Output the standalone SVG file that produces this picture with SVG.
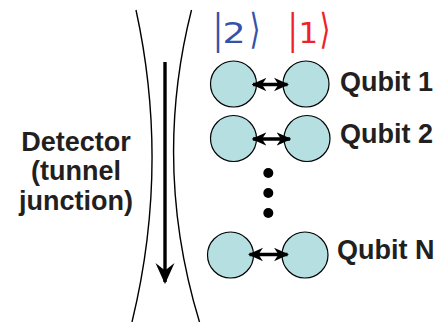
<svg xmlns="http://www.w3.org/2000/svg" width="438" height="322" viewBox="0 0 438 322">
  <style>
    .lbl { font-family: "Liberation Sans", Arial, sans-serif; font-weight: bold; font-size: 27px; fill: #231f20; }
    .det { font-family: "Liberation Sans", Arial, sans-serif; font-weight: bold; font-size: 27px; fill: #231f20; text-anchor: middle; }
    .qc { fill: #b5dfe1; stroke: #000; stroke-width: 1.2; }
    .link { stroke: #000; stroke-width: 3.4; fill: none; }
    .ket { font-family: "DejaVu Sans", "Liberation Sans", sans-serif; font-size: 28px; }
    .blue { fill: #3652a8; }
    .red { fill: #ee2227; }
    .curve { stroke: #000; stroke-width: 1.4; fill: none; }
    .dot { fill: #000; }
  </style>
  <defs>
    <marker id="head" viewBox="0 0 10 10" refX="9" refY="5" markerWidth="4.4" markerHeight="4.4" orient="auto-start-reverse" markerUnits="strokeWidth">
      <path d="M0,0.5 L10,5 L0,9.5 L3,5 Z" fill="#000"/>
    </marker>
    <marker id="bighead" viewBox="0 0 10 10" refX="9" refY="5" markerWidth="6.2" markerHeight="6.2" orient="auto" markerUnits="strokeWidth">
      <path d="M0,0.5 L10,5 L0,9.5 L3.5,5 Z" fill="#000"/>
    </marker>
  </defs>

  <g id="detector">
    <path class="curve" d="M136,10 Q170,166 132,322"/>
    <path class="curve" d="M191.5,10 Q152,166 199.5,322"/>
    <text class="det" x="76" y="151">Detector</text>
    <text class="det" x="76" y="180">(tunnel</text>
    <text class="det" x="76" y="210">junction)</text>
  </g>

  <g id="ket2">
    <text class="ket blue" transform="translate(218,43.3) scale(1,1.48)" text-anchor="middle">|</text>
    <text class="ket blue" transform="translate(222.5,43) scale(1.3,1)">2</text>
    <text class="ket blue" transform="translate(255,43.3) scale(1,1.48)" text-anchor="middle">⟩</text>
  </g>
  <g id="ket1">
    <text class="ket red" transform="translate(292.7,43.3) scale(1,1.48)" text-anchor="middle">|</text>
    <text class="ket red" transform="translate(298.5,43) scale(1.1,1)">1</text>
    <text class="ket red" transform="translate(325,43.3) scale(1,1.48)" text-anchor="middle">⟩</text>
  </g>

  <g id="qubit1">
    <circle class="qc" cx="233.5" cy="84" r="23"/>
    <circle class="qc" cx="306" cy="84" r="23"/>
    <text class="lbl" x="340" y="91">Qubit 1</text>
  </g>
  <g id="qubit2">
    <circle class="qc" cx="233.5" cy="138.5" r="23"/>
    <circle class="qc" cx="307" cy="138.5" r="23"/>
    <text class="lbl" x="340" y="143">Qubit 2</text>
  </g>
  <g id="ellipsis">
    <circle class="dot" cx="268.3" cy="173" r="5"/>
    <circle class="dot" cx="268.3" cy="193" r="5"/>
    <circle class="dot" cx="268.3" cy="213" r="5"/>
  </g>
  <g id="qubitN">
    <circle class="qc" cx="230.5" cy="255" r="23"/>
    <circle class="qc" cx="305" cy="255" r="23"/>
    <text class="lbl" x="337" y="258.5">Qubit N</text>
  </g>

  <g id="connectors">
    <line class="link" x1="165" y1="62" x2="165" y2="282" stroke-width="2.8" marker-end="url(#bighead)"/>
    <line class="link" x1="253" y1="84.5" x2="287.5" y2="84.5" marker-start="url(#head)" marker-end="url(#head)"/>
    <line class="link" x1="253" y1="139" x2="290" y2="139" marker-start="url(#head)" marker-end="url(#head)"/>
    <line class="link" x1="249.5" y1="254.5" x2="287.5" y2="254.5" marker-start="url(#head)" marker-end="url(#head)"/>
  </g>
</svg>
